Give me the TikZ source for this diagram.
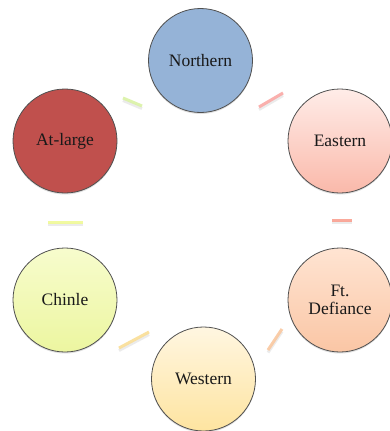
\documentclass[tikz,border=0pt]{standalone}
\usepackage{fontspec}
\setmainfont{Liberation Serif}
\usetikzlibrary{shadows,fadings}
\definecolor{northfill}{RGB}{149,179,215}
\definecolor{atfill}{RGB}{192,80,77}
\definecolor{easttop}{RGB}{255,236,232}
\definecolor{eastbot}{RGB}{250,185,170}
\definecolor{fttop}{RGB}{255,228,210}
\definecolor{ftbot}{RGB}{250,198,165}
\definecolor{chtop}{RGB}{247,252,205}
\definecolor{chbot}{RGB}{236,246,160}
\definecolor{wetop}{RGB}{255,246,225}
\definecolor{webot}{RGB}{254,228,160}
\definecolor{rimcol}{RGB}{80,80,80}
\definecolor{cgreen}{RGB}{218,242,165}
\definecolor{cpink}{RGB}{250,168,165}
\definecolor{csalmon}{RGB}{250,160,145}
\definecolor{cpeach}{RGB}{250,200,160}
\definecolor{cyelor}{RGB}{250,222,150}
\definecolor{cyellow}{RGB}{240,250,150}
\tikzset{
  x=1pt, y=1pt,
  district/.style={circle, minimum size=104pt, inner sep=0pt, draw=rimcol,
    line width=0.8pt, font=\fontsize{17.5}{17.5}\selectfont, text=black!90,
    align=center, drop shadow={shadow xshift=0pt, shadow yshift=-1.5pt, opacity=0.25}},
  flatfill/.style={fill=#1},
  gradfill/.style 2 args={top color=#1, bottom color=#2},
  link/.style={line width=3pt, draw=#1, line cap=butt, opacity=0.9},
  linkshadow/.style={line width=3pt, draw=black!25, opacity=0.3, line cap=butt}
}
\begin{document}
\begin{tikzpicture}
\useasboundingbox (0,0) rectangle (390,-431);
\fill[white] (0,0) rectangle (390,-431);

% connector end points
\coordinate (c1a) at (123,-98);  \coordinate (c1b) at (142,-106);
\coordinate (c2a) at (283,-93);  \coordinate (c2b) at (259,-107);
\coordinate (c3a) at (332,-220); \coordinate (c3b) at (352,-220);
\coordinate (c4a) at (282,-329); \coordinate (c4b) at (268,-350);
\coordinate (c5a) at (149,-332); \coordinate (c5b) at (119,-348);
\coordinate (c6a) at (48,-222);  \coordinate (c6b) at (83,-222);

% connector shadows
\foreach \a/\b in {c1a/c1b,c2a/c2b,c3a/c3b,c4a/c4b,c5a/c5b,c6a/c6b}
  \draw[linkshadow] ([yshift=-2.5pt]\a) -- ([yshift=-2.5pt]\b);

% connectors
\draw[link=cgreen]  (c1a) -- (c1b);
\draw[link=cpink]   (c2a) -- (c2b);
\draw[link=csalmon] (c3a) -- (c3b);
\draw[link=cpeach]  (c4a) -- (c4b);
\draw[link=cyelor]  (c5a) -- (c5b);
\draw[link=cyellow] (c6a) -- (c6b);

% districts
\node[district, flatfill=northfill] (northern) at (200.5,-60.5) {Northern};
\node[district, flatfill=atfill] (atlarge) at (65,-141) {At-large};
\node[district, gradfill={easttop}{eastbot}] (eastern) at (340,-141) {Eastern};
\node[district, gradfill={fttop}{ftbot}] (ftdefiance) at (340,-300) {Ft.\\Defiance};
\node[district, gradfill={wetop}{webot}] (western) at (203.5,-379) {Western};
\node[district, gradfill={chtop}{chbot}] (chinle) at (65,-300) {Chinle};
\end{tikzpicture}
\end{document}
